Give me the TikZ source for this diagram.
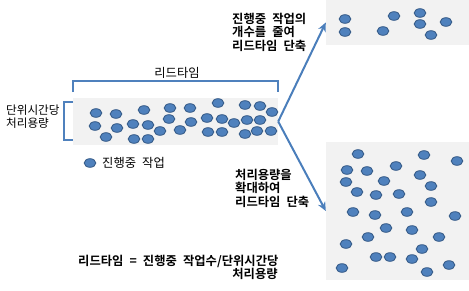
\documentclass[tikz,border=0pt]{standalone}
\usepackage{fontspec}
\setmainfont{Noto Sans CJK KR}[BoldFont={Noto Sans CJK KR Bold}, WordSpace=2.2]
\usetikzlibrary{arrows.meta}
\definecolor{dotfill}{HTML}{4F81BD}
\definecolor{dotline}{HTML}{385D8A}
\definecolor{bandgray}{HTML}{F2F2F2}
\definecolor{arrowblue}{HTML}{4A7EBB}
\tikzset{
  panel/.style={fill=bandgray, draw=none, inner sep=0pt, rectangle},
  job/.style={fill=dotfill, draw=dotline, line width=0.9pt},
  bracket/.style={draw=dotfill, line width=1.6pt},
  flow/.style={draw=arrowblue, line width=2pt, -{Stealth[length=9pt,width=8pt]}},
  lbl/.style={font=\fontsize{12.3}{13}\selectfont, inner sep=0pt},
  blbl/.style={font=\fontsize{12.3}{13.3}\selectfont\bfseries, inner sep=0pt, align=left},
}
\newcommand{\jobdot}[2]{\draw[job] (#1,#2) ellipse [x radius=5.8pt, y radius=4.3pt];}
\begin{document}
\begin{tikzpicture}[x=1pt,y=-1pt]
\useasboundingbox (0,0) rectangle (469,290);
% panels
\node[panel, minimum width=205pt, minimum height=47pt] (band) at (175.5,121.5) {};
\node[panel, minimum width=143pt, minimum height=45pt] (topbox) at (397.5,22.5) {};
\node[panel, minimum width=143pt, minimum height=138pt] (botbox) at (397.5,211) {};
% brackets
\draw[bracket] (73,92) -- (73,81) -- (278,81) -- (278,92);
\draw[bracket] (73,102) -- (64,102) -- (64,140) -- (73,140);
\node[lbl] (lt) at (177,73) {리드타임};
\node[lbl, font=\fontsize{11.6}{13.5}\selectfont, align=left, anchor=west] (cap) at (6,116.5) {단위시간당\\처리용량};
% dots in band
\foreach \x/\y in {96/113,116/114,95/126,117/128,106/137,144/110,133/124,148/125,134/139,148/139,
  160/131,170/108,190/108,169/119,191/122,180/130,218/103,207/118,222/119,208/132,222/132,
  234/123,245/105,260/106,272/112,247/120,260/120,245/134,257/131,271/131}
  {\jobdot{\x}{\y}}
% legend
\jobdot{90}{163}
\node[lbl, anchor=west] (leg) at (102,163) {진행중 작업};
% top box dots
\foreach \x/\y in {345/19,345/32,394/16,383/31,420/13,420/24,431/35,446/22}
  {\jobdot{\x}{\y}}
% bottom box dots
\foreach \x/\y in {358/154,424/155,457/161,347/170,367/171,396/166,420/175,346/182,384/181,
  431/186,357/192,376/195,399/194,431/202,353/212,375/215,407/212,455/216,386/228,412/230,
  368/237,439/237,346/244,422/249,376/257,390/257,412/259,449/265,342/268,427/272}
  {\jobdot{\x}{\y}}
% arrows
\coordinate (split) at (band.east);
\draw[flow] (split) -- (topbox.west);
\draw[flow] (split) -- (botbox.west);
% annotations
\node[blbl, anchor=north west] (t1) at (232,13) {진행중 작업의\\개수를 줄여\\리드타임 단축};
\node[blbl, anchor=north west] (t2) at (235,169) {처리용량을\\확대하여\\리드타임 단축};
\node[blbl, anchor=west] (f1) at (78,261) {리드타임 = 진행중 작업수/단위시간당};
\node[blbl] (f2) at (255,274) {처리용량};
\end{tikzpicture}
\end{document}
